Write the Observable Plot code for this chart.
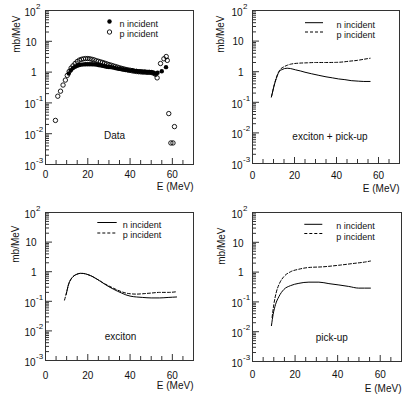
<!DOCTYPE html>
<html><head><meta charset="utf-8">
<script src="https://cdn.jsdelivr.net/npm/d3@7"></script>
<script src="https://cdn.jsdelivr.net/npm/@observablehq/plot@0.6"></script>
<style>
body{margin:0;background:#fff;}
#wrap{position:relative;width:415px;height:397px;background:#fff;overflow:hidden;}
#wrap svg{position:absolute;}
g[aria-label="legend-text"] text{letter-spacing:1.1px;}
g[aria-label="panel-title"] text{letter-spacing:0.8px;}
</style></head><body><div id="wrap"></div>
<script>
// ---- axes ----
const xDomain = [0, 70];
const yDomain = [1e-3, 1e2];
const xLabelTicks = [0, 20, 40, 60];
const xMinorTicks = [5, 10, 15, 25, 30, 35, 45, 50, 55, 65];
const yMajorTicks = [1e-3, 1e-2, 1e-1, 1, 10, 100];
const yTickBase = ["10", "10", "10", "1", "10", "10"];
const yTickExp = ["-3", "-2", "-1", "", "", "2"];
const yMinorMult = [2, 3, 4, 5, 6, 7, 8, 9];
const seriesNames = ["n incident", "p incident"];
const panelTitles = ["Data", "exciton + pick-up", "exciton", "pick-up"];
const yAxisTitle = "mb/MeV";
const xAxisTitle = "E (MeV)";

// ---- Panel 1: Data ----
const dataN_E = [11,12,13,14,15,16,17,18,19,20,21,22,23,24,25,26,27,28,29,30,31,32,33,34,35,36,37,38,39,40,41,42,43,44,45,46,47,48,49,50,51,52,53,55,57];
const dataN_val = [0.9,1.15,1.35,1.5,1.6,1.7,1.75,1.78,1.8,1.8,1.8,1.8,1.78,1.75,1.7,1.65,1.6,1.55,1.5,1.47,1.45,1.4,1.35,1.3,1.27,1.23,1.2,1.17,1.15,1.12,1.15,1.1,1.08,1.05,1.05,1.03,1.03,1.02,1.02,1.0,0.95,0.88,0.95,1.07,1.45];
const dataP_E = [4.7,5.8,7.1,8.3,9.4,10.3,11.2,12.1,13,14,15,16,17,18,19,20,21,22,23,24,25,26,27,28,29,30,31,32,33,34,35,36,37,38,39,40,41,42,43,44,45,46,47,48,49,50,51,52,52.8,54.4,56,57.1,57.6,58.3,59.3,60.3,61];
const dataP_val = [0.027,0.165,0.24,0.38,0.55,0.78,1.05,1.35,1.6,1.9,2.2,2.45,2.6,2.7,2.75,2.75,2.7,2.6,2.5,2.35,2.25,2.15,2.05,1.95,1.85,1.75,1.68,1.6,1.52,1.45,1.38,1.32,1.27,1.22,1.18,1.15,1.1,1.07,1.05,1.03,1.02,1.0,1.0,0.98,0.98,0.97,0.93,0.85,0.65,1.9,2.7,3.2,2.4,0.045,0.005,0.005,0.017];

// ---- Panel 2: exciton + pick-up ----
const epuN_E = [9.0,9.6,10.2,11.3,12.5,14,16.5,18,20.5,23,25,28,31.6,35,38,41,44,47,50.6,53,56];
const epuN_val = [0.15,0.22,0.33,0.59,0.95,1.17,1.3,1.27,1.15,1.05,0.96,0.86,0.76,0.68,0.63,0.58,0.55,0.51,0.49,0.48,0.48];
const epuP_E = [9.0,10.2,11.3,12.5,13.5,15,16.5,18,20,22,26,30,35,40,43,46,50,53,56];
const epuP_val = [0.15,0.34,0.62,1.0,1.25,1.45,1.62,1.75,1.85,1.9,1.95,2.0,2.0,2.02,2.08,2.2,2.35,2.55,2.75];

// ---- Panel 3: exciton ----
const excN_E = [9.8,10.3,10.8,11.5,12.5,13.5,15,16.5,18,20,22,24,26,28,30,32,34,36,38,40,43,46,50,54,58,62];
const excN_val = [0.17,0.25,0.36,0.48,0.62,0.73,0.83,0.88,0.87,0.8,0.7,0.58,0.47,0.38,0.31,0.26,0.22,0.19,0.165,0.15,0.14,0.135,0.13,0.13,0.135,0.14];
const excP_E = [9.0,9.5,10.3,11,12,13,14.5,16.5,18,20,22,24,26,28,30,32,34,36,38,40,43,46,50,54,58,62];
const excP_val = [0.11,0.15,0.25,0.38,0.55,0.68,0.8,0.88,0.87,0.8,0.7,0.58,0.48,0.39,0.33,0.28,0.24,0.21,0.19,0.18,0.175,0.18,0.19,0.2,0.2,0.21];

// ---- Panel 4: pick-up ----
const pkN_E = [8.9,9.7,10.8,12.4,14.7,17.8,21.8,26.5,31.2,35.9,40.6,45.2,49.9,55.4];
const pkN_val = [0.016,0.038,0.081,0.15,0.26,0.35,0.42,0.46,0.46,0.41,0.37,0.33,0.29,0.29];
const pkP_E = [9.2,10,11.1,12.7,14.7,17.8,21.8,26.5,32.8,40.6,46.9,53.2,55.4];
const pkP_val = [0.03,0.08,0.2,0.42,0.7,1.02,1.25,1.43,1.5,1.7,1.93,2.2,2.35];

const rows = (E, V) => E.map((e, i) => ({E: e, v: V[i]}));
const yMinorTicks = yMajorTicks.slice(0, -1).flatMap(d => yMinorMult.map(k => k * d));
const yLabelRows = yMajorTicks.map((v, i) => ({v, base: yTickBase[i], exp: yTickExp[i]}));
const yLabelsPlain = yLabelRows.filter(d => !d.exp);
const yLabelsSup = yLabelRows.filter(d => d.exp);

const FONT = "'Liberation Sans', Arial, sans-serif";
const INK = "#111";
const AX = "#333";
const LEG_FS = 9;

function commonMarks(cfg) {
  return [
    Plot.frame({stroke: AX, strokeWidth: 1}),
    Plot.axisX(xMinorTicks, {tickSize: -4, tickFormat: () => "", label: null, stroke: AX}),
    Plot.axisX(xLabelTicks, {tickSize: -6, tickFormat: () => "", label: null, stroke: AX}),
    Plot.axisX(xLabelTicks, {tickSize: 0, tickPadding: cfg.xPad, label: null, fontSize: 10, fill: INK}),
    Plot.axisY(yMinorTicks, {tickSize: -4, tickFormat: () => "", label: null, stroke: AX}),
    Plot.axisY(yMajorTicks, {tickSize: -7, tickFormat: () => "", label: null, stroke: AX}),
    Plot.text(yLabelsPlain, {y: "v", text: "base", frameAnchor: "left", textAnchor: "end", dx: -9, dy: 1, fontSize: 10, fill: INK}),
    Plot.text(yLabelsSup, {y: "v", text: "base", frameAnchor: "left", textAnchor: "end", dx: -10, dy: 2, fontSize: 10, fill: INK}),
    Plot.text(yLabelsSup, {y: "v", text: "exp", frameAnchor: "left", textAnchor: "start", dx: -9.5, dy: -4, fontSize: 8, fill: INK}),
    Plot.text([yAxisTitle], {frameAnchor: "top-left", rotate: -90, textAnchor: "end", dx: cfg.ylDx, dy: cfg.ylDy, fontSize: 10, fill: INK}),
    Plot.text([xAxisTitle], {frameAnchor: "bottom-right", textAnchor: "end", dy: cfg.xlDy, fontSize: 10, fill: INK}),
    Plot.text([cfg.title], {frameAnchor: "top-left", textAnchor: "middle", dx: cfg.tDx, dy: cfg.tDy, fontSize: 10, fill: INK, ariaLabel: "panel-title"})
  ];
}

function lineLegend(cfg) {
  const fw = cfg.width - cfg.ml - cfg.mr;
  const L = cfg.leg;
  return [
    Plot.ruleY([yDomain[1]], {dy: L.nLine, insetLeft: L.x0, insetRight: fw - L.x1, stroke: "#000", strokeWidth: 1}),
    Plot.ruleY([yDomain[1]], {dy: L.pLine, insetLeft: L.x0, insetRight: fw - L.x1, stroke: "#000", strokeWidth: 1, strokeDasharray: "3,2"}),
    Plot.text([seriesNames[0]], {frameAnchor: "top-left", textAnchor: "start", dx: L.tx, dy: L.nText, fontSize: LEG_FS, fill: INK, ariaLabel: "legend-text"}),
    Plot.text([seriesNames[1]], {frameAnchor: "top-left", textAnchor: "start", dx: L.tx, dy: L.pText, fontSize: LEG_FS, fill: INK, ariaLabel: "legend-text"})
  ];
}

function makePlot(cfg, marks) {
  const svg = Plot.plot({
    width: cfg.width, height: cfg.height,
    marginLeft: cfg.ml, marginRight: cfg.mr, marginTop: cfg.mt, marginBottom: cfg.mb,
    style: {fontFamily: FONT, fontSize: "10px", color: INK, background: "transparent", overflow: "visible"},
    x: {domain: xDomain},
    y: {type: "log", domain: yDomain},
    marks: [...commonMarks(cfg), ...marks]
  });
  svg.style.left = cfg.left + "px";
  svg.style.top = cfg.top + "px";
  document.getElementById("wrap").appendChild(svg);
}

const lineOpts = {x: "E", y: "v", stroke: "#000", strokeWidth: 1, curve: "monotone-x"};
const dashOpts = {...lineOpts, strokeDasharray: "3,2"};

// Panel 1
const cfg1 = {left: 0, top: 0, width: 207, height: 200, ml: 45, mr: 14, mt: 10, mb: 36,
  xPad: 6, xlDy: 25, ylDx: -33, ylDy: 5, title: panelTitles[0], tDx: 69, tDy: 121};
makePlot(cfg1, [
  Plot.dot(rows(dataP_E, dataP_val), {x: "E", y: "v", r: 2.2, stroke: "#000", strokeWidth: 0.9, fill: "none"}),
  Plot.dot(rows(dataN_E, dataN_val), {x: "E", y: "v", r: 2.2, fill: "#000", stroke: "none"}),
  Plot.dot([{x: xDomain[0], y: yDomain[1]}], {x: "x", y: "y", dx: 64, dy: 11, r: 2.2, fill: "#000"}),
  Plot.dot([{x: xDomain[0], y: yDomain[1]}], {x: "x", y: "y", dx: 64, dy: 21.5, r: 2.2, stroke: "#000", strokeWidth: 0.9, fill: "none"}),
  Plot.text([seriesNames[0]], {frameAnchor: "top-left", textAnchor: "start", dx: 74, dy: 10, fontSize: LEG_FS, fill: INK, ariaLabel: "legend-text"}),
  Plot.text([seriesNames[1]], {frameAnchor: "top-left", textAnchor: "start", dx: 74, dy: 20.5, fontSize: LEG_FS, fill: INK, ariaLabel: "legend-text"})
]);

// Panel 2
const cfg2 = {left: 207, top: 0, width: 208, height: 200, ml: 45, mr: 16, mt: 10, mb: 37,
  xPad: 8, xlDy: 28.5, ylDx: -36, ylDy: 5, title: panelTitles[1], tDx: 77.5, tDy: 122,
  leg: {x0: 53, x1: 71, tx: 84, nLine: 12.2, pLine: 21.5, nText: 11, pText: 21.5}};
makePlot(cfg2, [
  Plot.line(rows(epuN_E, epuN_val), lineOpts),
  Plot.line(rows(epuP_E, epuP_val), dashOpts),
  ...lineLegend(cfg2)
]);

// Panel 3
const cfg3 = {left: 0, top: 200, width: 207, height: 197, ml: 45, mr: 14, mt: 12, mb: 37,
  xPad: 11, xlDy: 28, ylDx: -34, ylDy: 13, title: panelTitles[2], tDx: 75, tDy: 120,
  leg: {x0: 52.3, x1: 71.7, tx: 77.3, nLine: 10, pLine: 20.5, nText: 9, pText: 19.5}};
makePlot(cfg3, [
  Plot.line(rows(excN_E, excN_val), lineOpts),
  Plot.line(rows(excP_E, excP_val), dashOpts),
  ...lineLegend(cfg3)
]);

// Panel 4
const cfg4 = {left: 207, top: 200, width: 208, height: 197, ml: 45, mr: 14, mt: 12, mb: 36,
  xPad: 9, xlDy: 30, ylDx: -35, ylDy: 15, title: panelTitles[3], tDx: 79.3, tDy: 121.3,
  leg: {x0: 52.3, x1: 70.3, tx: 83.7, nLine: 11.8, pLine: 21, nText: 10.5, pText: 21}};
makePlot(cfg4, [
  Plot.line(rows(pkN_E, pkN_val), lineOpts),
  Plot.line(rows(pkP_E, pkP_val), dashOpts),
  ...lineLegend(cfg4)
]);
</script></body></html>
